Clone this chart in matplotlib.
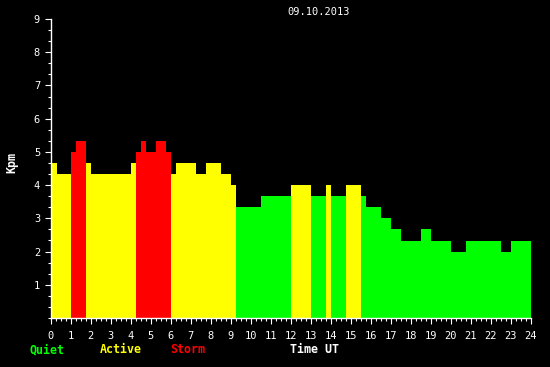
import matplotlib
matplotlib.use("Agg")
import matplotlib.pyplot as plt
from matplotlib.ticker import MultipleLocator

# Kp step data, 09.10.2013 (start hour of each step, Kp value)
t_start = [0.0, 0.3, 1.0, 1.25, 1.75, 2.0, 4.0, 4.25, 4.5, 4.75, 5.25, 5.75,
           6.0, 6.25, 7.25, 7.75, 8.5, 9.0, 9.25, 10.5, 12.0, 13.0, 13.75, 14.0,
           14.75, 15.5, 15.75, 16.5, 17.0, 17.5, 18.5, 19.0, 20.0, 20.75, 22.5, 23.0]
t_end = t_start[1:] + [24.0]
kp = [4.67, 4.33, 5.0, 5.33, 4.67, 4.33, 4.67, 5.0, 5.33, 5.0, 5.33, 5.0,
      4.33, 4.67, 4.33, 4.67, 4.33, 4.0, 3.33, 3.67, 4.0, 3.67, 4.0, 3.67,
      4.0, 3.67, 3.33, 3.0, 2.67, 2.33, 2.67, 2.33, 2.0, 2.33, 2.0, 2.33]

hours = list(range(0, 25))
kp_ticks = list(range(1, 10))

GREEN, YELLOW, RED = "#00ff00", "#ffff00", "#ff0000"


def level_color(v):
    if v >= 5:
        return RED
    if v >= 4:
        return YELLOW
    return GREEN


fig = plt.figure(figsize=(5.5, 3.67), dpi=100, facecolor="black")
ax = fig.add_axes([50.5 / 550, 49 / 367, 480 / 550, 299 / 367])
ax.set_facecolor("black")

widths = [e - s for s, e in zip(t_start, t_end)]
ax.bar(t_start, kp, width=widths, align="edge",
       color=[level_color(v) for v in kp], linewidth=0, antialiased=False)

ax.set_xlim(0, 24)
ax.set_ylim(0, 9)

for side in ["top", "right"]:
    ax.spines[side].set_visible(False)
for side in ["left", "bottom"]:
    ax.spines[side].set_color("white")
    ax.spines[side].set_linewidth(1.0)

mono = "DejaVu Sans Mono"
ax.set_xticks(hours)
ax.set_xticklabels([str(h) for h in hours], family=mono, fontsize=7.5)
ax.xaxis.set_minor_locator(MultipleLocator(0.25))
ax.set_yticks(kp_ticks)
ax.set_yticklabels([str(k) for k in kp_ticks], family=mono, fontsize=7.5)
ax.yaxis.set_minor_locator(MultipleLocator(1 / 3))

ax.tick_params(which="major", colors="white", length=4.5, width=0.8, pad=3)
ax.tick_params(which="minor", colors="white", length=2.5, width=0.8)
ax.tick_params(axis="x", which="major", pad=5)

fig.text(319 / 550, 1 - 12 / 367, "09.10.2013", color="white", family=mono,
         fontsize=7.5, ha="center", va="center")
fig.text(12 / 550, 1 - 162 / 367, "Kpm", color="white", family=mono,
         fontsize=8.4, fontweight="bold", rotation=90, ha="center", va="center")

legend_items = [("Quiet", GREEN, 30), ("Active", YELLOW, 100),
                ("Storm", RED, 170), ("Time UT", "white", 290)]
for label, col, xpix in legend_items:
    fig.text(xpix / 550, 1 - 353 / 367, label, color=col, family=mono,
             fontsize=8.4, fontweight="bold", ha="left", va="baseline")

fig.savefig("out.png", dpi=100, facecolor="black")
